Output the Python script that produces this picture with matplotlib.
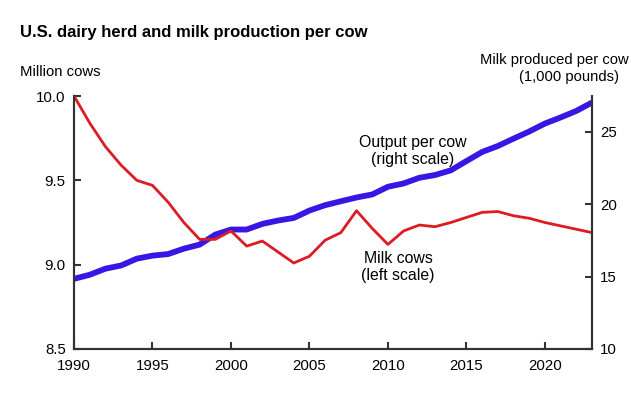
import matplotlib
matplotlib.use("Agg")
import matplotlib.pyplot as plt

plt.rcParams['font.family'] = ['Liberation Sans', 'DejaVu Sans']

years = list(range(1990, 2024))
milk_cows = [10.00, 9.84, 9.70, 9.59, 9.50, 9.47, 9.37, 9.25, 9.15, 9.15,
             9.20, 9.11, 9.14, 9.075, 9.01, 9.05, 9.145, 9.19, 9.32, 9.215,
             9.12, 9.20, 9.235, 9.225, 9.25, 9.28, 9.31, 9.315, 9.29, 9.275,
             9.25, 9.23, 9.21, 9.19]
output_per_cow = [14.84, 15.12, 15.54, 15.76, 16.23, 16.44, 16.55, 16.92, 17.20, 17.89,
                  18.24, 18.24, 18.63, 18.86, 19.04, 19.55, 19.92, 20.19, 20.45, 20.66,
                  21.19, 21.42, 21.81, 22.00, 22.32, 22.96, 23.59, 24.00, 24.51, 25.00,
                  25.55, 25.97, 26.42, 27.00]
x_ticks = [1990, 1995, 2000, 2005, 2010, 2015, 2020]
left_ticks = [8.5, 9.0, 9.5, 10.0]
right_ticks = [10, 15, 20, 25]

fig = plt.figure(figsize=(6.31, 3.99), dpi=100)
ax = fig.add_axes([74/631, 1-349/399, (592-74)/631, (349-96)/399])
ax2 = ax.twinx()

ax.plot(years, milk_cows, color='#DC1C22', lw=2.0, zorder=2)
ax2.plot(years, output_per_cow, color='#3A16E4', lw=4.2, solid_capstyle='butt')

ax.set_xlim(1990, 2023)
ax.set_ylim(8.5, 10.0)
ax2.set_ylim(10, 27.45)
ax.set_xticks(x_ticks)
ax.set_yticks(left_ticks)
ax.set_yticklabels([f"{v:.1f}" for v in left_ticks])
ax2.set_yticks(right_ticks)

spine_col = '#333333'
for a in (ax, ax2):
    a.spines['top'].set_visible(False)
    for s in ('left', 'right', 'bottom'):
        a.spines[s].set_color(spine_col)
        a.spines[s].set_linewidth(1.5)
    a.tick_params(direction='in', length=5, width=1.5, color=spine_col,
                  labelsize=10.8, labelcolor='black')
ax.tick_params(axis='x', pad=7)
ax.tick_params(axis='y', pad=6)
ax2.tick_params(axis='y', pad=6)
ax.set_zorder(ax2.get_zorder() + 1)
ax.patch.set_visible(False)

fig.text(20/631, 1-32/399, "U.S. dairy herd and milk production per cow",
         fontsize=12, fontweight='bold', va='center', ha='left')
fig.text(20/631, 1-72/399, "Million cows", fontsize=10.7, va='center', ha='left')
fig.text(629/631, 1-60/399, "Milk produced per cow", fontsize=10.6, va='center', ha='right')
fig.text(569/631, 1-77/399, "(1,000 pounds)", fontsize=10.6, va='center', ha='center')

fig.text(413/631, 1-151/399, "Output per cow\n(right scale)", fontsize=11.4,
         va='center', ha='center', linespacing=1.15)
fig.text(398/631, 1-267/399, "Milk cows\n(left scale)", fontsize=11.4,
         va='center', ha='center', linespacing=1.15)

fig.savefig("out.png", dpi=100)
